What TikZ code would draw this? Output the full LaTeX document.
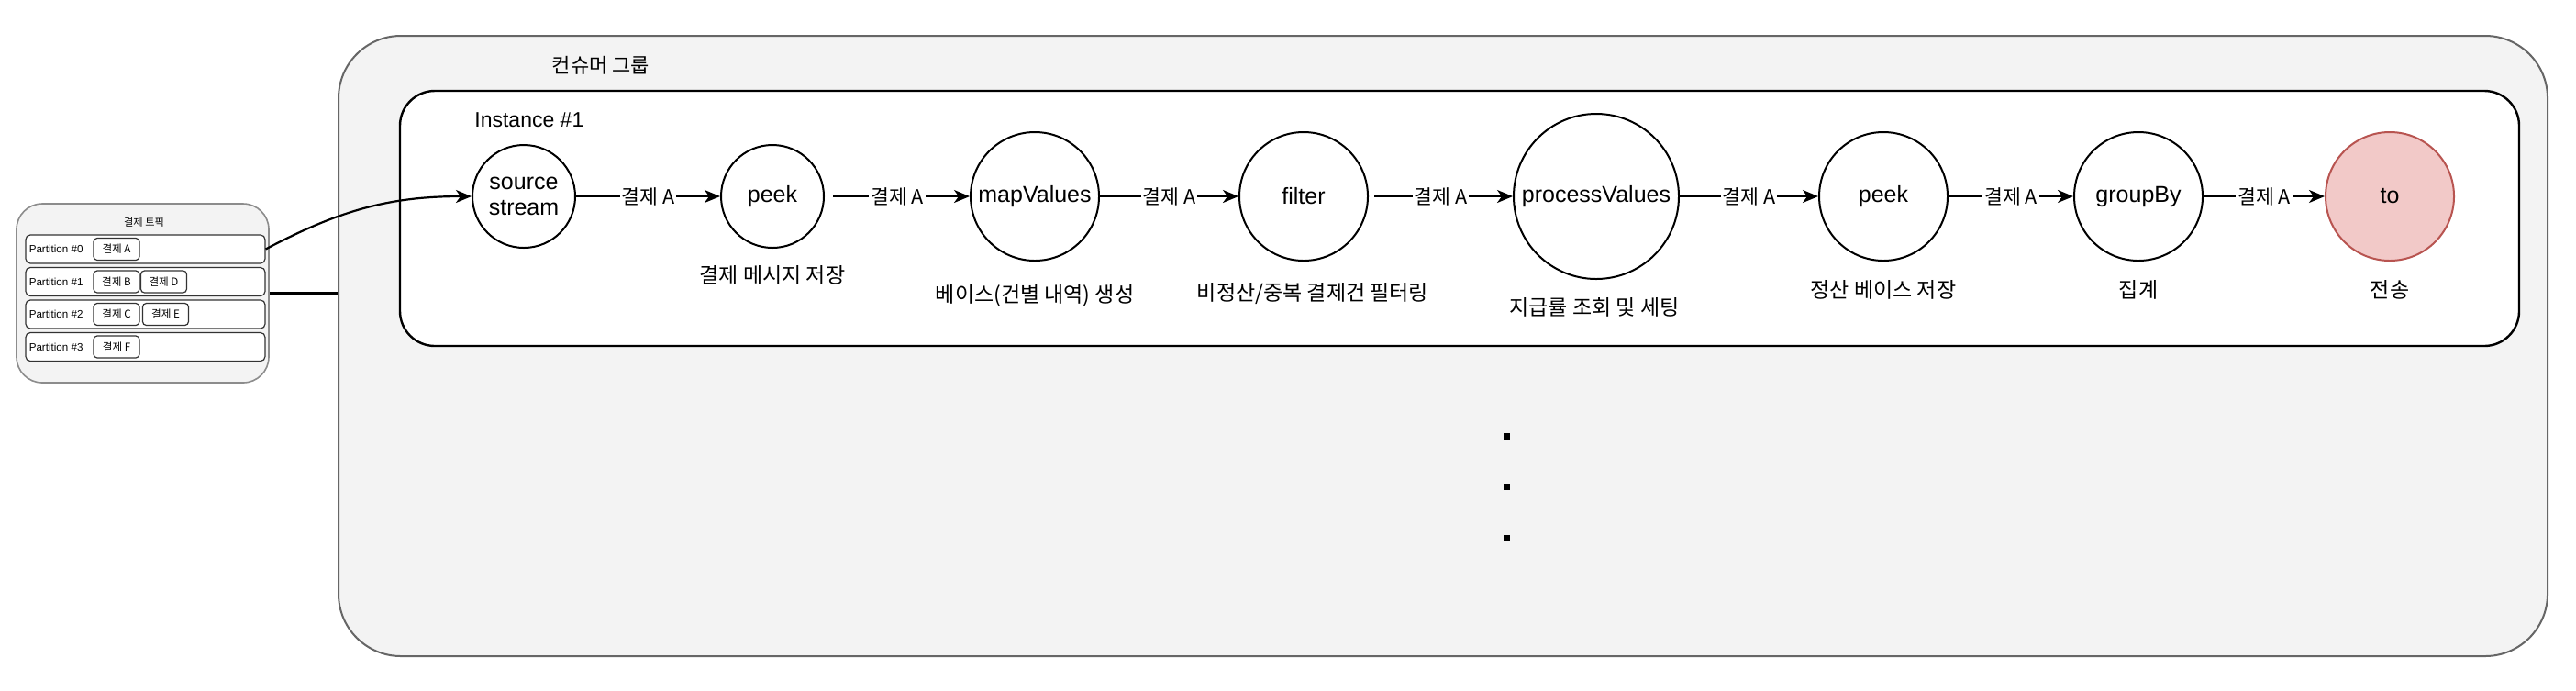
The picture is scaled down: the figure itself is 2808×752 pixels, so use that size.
\documentclass[tikz,border=0pt]{standalone}
\usepackage{fontspec}
\setmainfont{Liberation Sans}
\newfontfamily\kr{Noto Sans CJK KR}
\usetikzlibrary{arrows.meta}

\definecolor{groupfill}{HTML}{F3F3F3}
\definecolor{groupline}{HTML}{666666}
\definecolor{topicline}{HTML}{8C8C8C}
\definecolor{tofill}{HTML}{F2C9C8}
\definecolor{toline}{HTML}{B85450}

\tikzset{
    op/.style={circle, draw, line width=1pt, fill=white, inner sep=0pt,
        font=\fontsize{12.5}{14}\selectfont},
    flow/.style={line width=1.1pt, -{Stealth[length=8.5pt,width=7pt,inset=2.5pt]}},
    tag/.style={fill=white, inner sep=1pt, font=\kr\fontsize{10.8}{12}\selectfont},
    note/.style={font=\kr\fontsize{11.5}{13}\selectfont},
    part/.style={draw=black!80, fill=white, line width=0.6pt, rounded corners=2.5pt,
        minimum width=130.5pt, minimum height=15.5pt, inner sep=0pt},
    msg/.style={draw=black!80, fill=white, line width=0.6pt, rounded corners=2pt,
        minimum width=25pt, minimum height=12pt, inner sep=0pt,
        font=\kr\fontsize{5.8}{6.5}\selectfont}
}

\begin{document}
\begin{tikzpicture}[x=0.5pt,y=-0.5pt]
    \useasboundingbox (0,0) rectangle (2808,752);

    % topic
    \node[draw=topicline, fill=groupfill, line width=0.8pt, rounded corners=14pt,
        minimum width=137.5pt, minimum height=97.5pt] (topic) at (155.5,319.5) {};
    \node[font=\kr\fontsize{5.6}{6.5}\selectfont] (title) at (157,242) {결제 토픽};
    \foreach \i in {0,...,3} {
        \node[part] (p\i) at (158.5,{271.5+35.5*\i}) {};
        \node[anchor=west, inner sep=0pt, font=\fontsize{5.8}{7}\selectfont]
            (pl\i) at ([xshift=2pt]p\i.west) {Partition \#\i};
    }
    \node[msg] (ma) at (127,271.5) {결제 A};
    \node[msg] (mb) at (127,307) {결제 B};
    \node[msg] (md) at (178.5,307) {결제 D};
    \node[msg] (mc) at (127,342.5) {결제 C};
    \node[msg] (me) at (180.5,342.5) {결제 E};
    \node[msg] (mf) at (127,378) {결제 F};

    % consumer group
    \node[draw=groupline, fill=groupfill, line width=1pt, rounded corners=34pt,
        minimum width=1204pt, minimum height=338pt] (group) at (1573,377) {};
    \node[font=\kr\fontsize{11}{13}\selectfont] (gname) at (655,71) {컨슈머 그룹};
    \node[draw, fill=white, line width=1.2pt, rounded corners=19pt,
        minimum width=1155pt, minimum height=139pt] (inst) at (1591,238) {};
    \node[anchor=west, inner sep=0pt, font=\fontsize{11.5}{13}\selectfont]
        (iname) at (517,131) {Instance \#1};

    \draw[line width=1.1pt] (topic.east) -- (topic.east -| group.west);

    % operators
    \node[op, minimum size=56pt, align=center, font=\fontsize{12.5}{14}\selectfont]
        (src) at (571,214) {source\\stream};
    \node[op, minimum size=56pt] (peek) at (842,214) {peek};
    \node[op, minimum size=70pt] (map) at (1128,214) {mapValues};
    \node[op, minimum size=70pt] (filter) at (1421,214) {filter};
    \node[op, minimum size=90pt] (proc) at (1740,214) {processValues};
    \node[op, minimum size=70pt] (peekb) at (2053,214) {peek};
    \node[op, minimum size=70pt] (group by) at (2331,214) {groupBy};
    \node[op, minimum size=70pt, fill=tofill, draw=toline] (to) at (2605,214) {to};

    \node[note] (peek note) at (842,300) {결제 메시지 저장};
    \node[note] (map note) at (1128,322) {베이스(건별 내역) 생성};
    \node[note] (filter note) at (1431,320) {비정산/중복 결제건 필터링};
    \node[note] (proc note) at (1738,335) {지급률 조회 및 세팅};
    \node[note] (peekb note) at (2053,316) {정산 베이스 저장};
    \node[note] (group by note) at (2331,316) {집계};
    \node[note] (to note) at (2605,316) {전송};

    \draw[flow] (p0.east) .. controls (370,229) and (425,214) .. (src.west);
    \draw[flow] (src) -- node[tag] {결제 A} (peek);
    \draw[flow, shorten <=4.5pt] (peek) -- node[tag] {결제 A} (map);
    \draw[flow] (map) -- node[tag] {결제 A} (filter);
    \draw[flow, shorten <=3pt] (filter) -- node[tag] {결제 A} (proc);
    \draw[flow] (proc) -- node[tag] {결제 A} (peekb);
    \draw[flow] (peekb) -- node[tag] {결제 A} (group by);
    \draw[flow] (group by) -- node[tag] {결제 A} (to);

    \foreach \y in {475,530,586}
        \fill (1638.5,{\y-3.5}) rectangle ++(7,7);
\end{tikzpicture}
\end{document}
